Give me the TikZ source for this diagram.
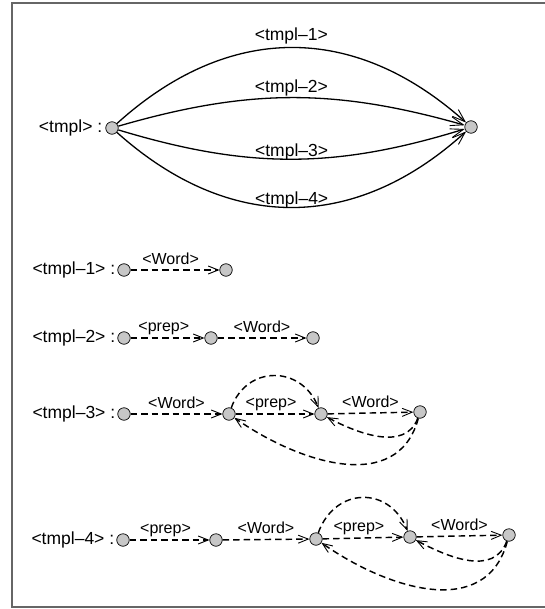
\documentclass[tikz,border=0pt]{standalone}
\usepackage{fontspec}
\setmainfont{Liberation Sans}
\usetikzlibrary{arrows.meta}
\begin{document}
\begin{tikzpicture}[x=1pt,y=1pt,
  state/.style={circle, draw=black, fill=black!22, minimum size=12.5pt, inner sep=0pt, line width=0.7pt},
  rowlab/.style={font=\fontsize{17.5}{20}\selectfont, inner sep=0pt, anchor=east},
  arclab/.style={font=\fontsize{17.5}{20}\selectfont, inner sep=0pt, anchor=base},
  edgelab/.style={font=\fontsize{16}{18}\selectfont, inner sep=0pt, anchor=base},
  tmplarc/.style={line width=1.3pt, -{Straight Barb[length=13pt, width=9pt, line width=0.9pt]}},
  wordarc/.style={line width=1.45pt, dash pattern=on 6.5pt off 4pt,
    -{Straight Barb[length=10pt, width=8pt, line width=0.9pt]}}]
\useasboundingbox (0,0) rectangle (544,-609);
% frame
\draw[line width=1.6pt, draw=black!60] (12,-3) rectangle (560,-607);

% ---------- <tmpl> ----------
\node[state] (s0) at (112,-128) {};
\node[state] (s1) at (471,-127) {};
\node[rowlab] (l0) at ([xshift=-3pt]s0.west) {<tmpl> :};
\draw[tmplarc] (s0) to[bend left=42, looseness=1.1]
  node[arclab, midway, yshift=7pt] (a1) {<tmpl–1>} (s1);
\draw[tmplarc] (s0) to[bend left=16]
  node[arclab, midway, yshift=5pt] (a2) {<tmpl–2>} (s1);
\draw[tmplarc] (s0) to[bend right=17]
  node[arclab, midway, yshift=3pt] (a3) {<tmpl–3>} (s1);
\draw[tmplarc] (s0) to[bend right=42, looseness=1.1]
  node[arclab, midway, yshift=3pt] (a4) {<tmpl–4>} (s1);

% ---------- <tmpl-1> ----------
\node[state] (p1a) at (124,-270) {};
\node[state] (p1b) at (226,-270) {};
\node[rowlab] (l1) at ([xshift=-2pt]p1a.west) {<tmpl–1> :};
\draw[wordarc] (p1a) -- node[edgelab, pos=0.45, yshift=6pt] (w1) {<Word>} (p1b);

% ---------- <tmpl-2> ----------
\node[state] (p2a) at (124,-338) {};
\node[state] (p2b) at (211,-338) {};
\node[state] (p2c) at (313,-338) {};
\node[rowlab] (l2) at ([xshift=-2pt]p2a.west) {<tmpl–2> :};
\draw[wordarc] (p2a) -- node[edgelab, pos=0.45, yshift=7pt] (e21) {<prep>} (p2b);
\draw[wordarc] (p2b) -- node[edgelab, pos=0.5, yshift=6pt] (e22) {<Word>} (p2c);

% ---------- <tmpl-3> ----------
\node[state] (p3a) at (124,-414) {};
\node[state] (p3b) at (229,-414) {};
\node[state] (p3c) at (321,-414) {};
\node[state] (p3d) at (420,-412) {};
\node[rowlab] (l3) at ([xshift=-2pt]p3a.west) {<tmpl–3> :};
\draw[wordarc] (p3a) -- node[edgelab, pos=0.5, yshift=6pt] (e31) {<Word>} (p3b);
\draw[wordarc] (p3b) -- node[edgelab, pos=0.45, yshift=7pt] (e32) {<prep>} (p3c);
\draw[wordarc] (p3c) -- node[edgelab, pos=0.5, yshift=6pt] (e33) {<Word>} (p3d);
\draw[wordarc] (p3b) to[out=70, in=112, looseness=1.35] (p3c);
\draw[wordarc] (p3d) to[out=-110, in=-28, looseness=1] (p3c);
\draw[wordarc] (p3d) to[out=-105, in=-35, looseness=1.1] (p3b);

% ---------- <tmpl-4> ----------
\node[state] (p4a) at (123,-540) {};
\node[state] (p4b) at (216,-540) {};
\node[state] (p4c) at (316,-539) {};
\node[state] (p4d) at (410,-537) {};
\node[state] (p4e) at (509,-535) {};
\node[rowlab] (l4) at ([xshift=-2pt]p4a.west) {<tmpl–4> :};
\draw[wordarc] (p4a) -- node[edgelab, pos=0.45, yshift=7pt] (e41) {<prep>} (p4b);
\draw[wordarc] (p4b) -- node[edgelab, pos=0.5, yshift=6pt] (e42) {<Word>} (p4c);
\draw[wordarc] (p4c) -- node[edgelab, pos=0.45, yshift=7pt] (e43) {<prep>} (p4d);
\draw[wordarc] (p4d) -- node[edgelab, pos=0.5, yshift=6pt] (e44) {<Word>} (p4e);
\draw[wordarc] (p4c) to[out=70, in=112, looseness=1.4] (p4d);
\draw[wordarc] (p4e) to[out=-110, in=-28, looseness=1.05] (p4d);
\draw[wordarc] (p4e) to[out=-105, in=-35, looseness=1.12] (p4c);
\end{tikzpicture}
\end{document}
